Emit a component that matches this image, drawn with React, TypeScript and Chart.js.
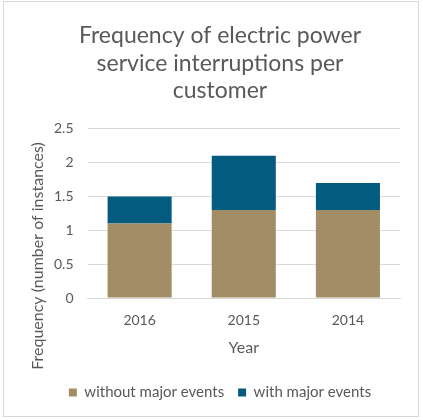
import { useEffect, useRef } from "react";
import { Chart, registerables } from "chart.js";

Chart.register(...registerables);

const years = ["2016", "2015", "2014"];
const withoutMajor = [1.1, 1.3, 1.3];
const withMajor = [0.4, 0.8, 0.4];
const titleLines = ["Frequency of electric power", "service interruptions per", "customer"];
const yAxisTitle = "Frequency (number of instances)";

const FONT = "Lato, 'Liberation Sans', sans-serif";
const GRAY = "#595959";

// the y title in the original sits lower than the plot centre, so draw it by hand
const yTitlePlugin = {
  id: "yTitle",
  afterDraw(chart: Chart) {
    const ctx = chart.ctx;
    ctx.save();
    ctx.translate(34, 254);
    ctx.rotate(-Math.PI / 2);
    ctx.fillStyle = GRAY;
    ctx.font = `16px ${FONT}`;
    ctx.textAlign = "center";
    ctx.textBaseline = "middle";
    ctx.fillText(yAxisTitle, 0, 0);
    ctx.restore();
  },
};

const App = () => {
  const canvasRef = useRef<HTMLCanvasElement>(null);

  useEffect(() => {
    if (!canvasRef.current) return;
    const chart = new Chart(canvasRef.current, {
      type: "bar",
      data: {
        labels: years,
        datasets: [
          {
            label: "without major events",
            data: withoutMajor,
            backgroundColor: "#A38D66",
            barPercentage: 0.615,
            categoryPercentage: 1,
          },
          {
            label: "with major events",
            data: withMajor,
            backgroundColor: "#035B80",
            barPercentage: 0.615,
            categoryPercentage: 1,
          },
        ],
      },
      options: {
        responsive: true,
        maintainAspectRatio: false,
        animation: false,
        layout: { padding: { left: 36, right: 18, top: 14, bottom: 6 } },
        plugins: {
          title: {
            display: true,
            text: titleLines,
            color: GRAY,
            font: { family: FONT, size: 23, weight: "normal", lineHeight: 1.2 },
            padding: { top: 6, bottom: 24 },
          },
          legend: {
            position: "bottom",
            labels: {
              color: GRAY,
              boxWidth: 8,
              boxHeight: 8,
              padding: 14,
              font: { family: FONT, size: 15 },
            },
          },
          tooltip: { enabled: false },
        },
        scales: {
          x: {
            stacked: true,
            grid: { display: false },
            border: { color: "#D9D9D9" },
            ticks: { color: GRAY, font: { family: FONT, size: 14 }, padding: 6 },
            title: {
              display: true,
              text: "Year",
              color: GRAY,
              font: { family: FONT, size: 16 },
              padding: { top: 3, bottom: 14 },
            },
          },
          y: {
            stacked: true,
            min: 0,
            max: 2.5,
            ticks: {
              stepSize: 0.5,
              color: GRAY,
              font: { family: FONT, size: 14 },
              padding: 14,
              callback: (v) => `${v}`,
            },
            grid: { color: "#D9D9D9", drawTicks: false },
            border: { display: false },
          },
        },
      },
      plugins: [yTitlePlugin],
    });
    return () => chart.destroy();
  }, []);

  return (
    <div style={{ position: "fixed", left: 0, top: 0, width: 423, height: 420, background: "#fff" }}>
      <div
        style={{
          position: "absolute",
          left: 3,
          top: 1,
          width: 414,
          height: 414,
          border: "1px solid #D9D9D9",
        }}
      >
        <canvas ref={canvasRef}></canvas>
      </div>
    </div>
  );
};

export default App;
